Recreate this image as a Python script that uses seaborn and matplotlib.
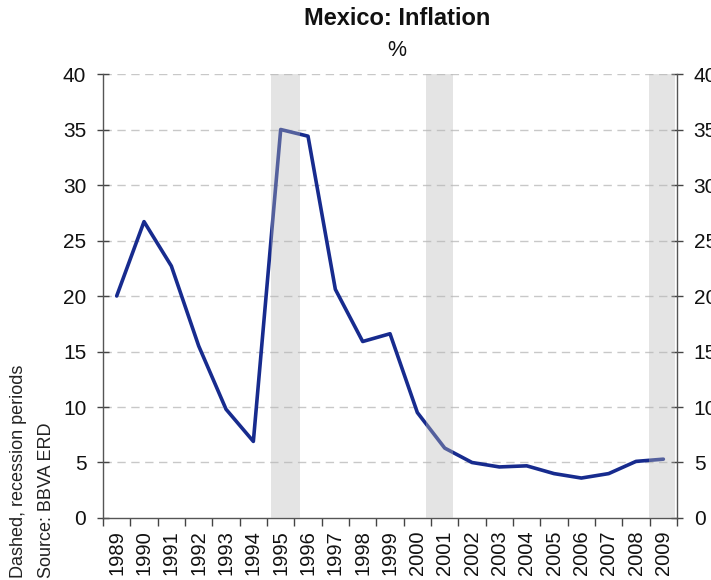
import numpy as np
import pandas as pd
import matplotlib
matplotlib.use("Agg")
import matplotlib.pyplot as plt
import seaborn as sns

# Annual inflation, %
years = [1989, 1990, 1991, 1992, 1993, 1994, 1995, 1996, 1997, 1998, 1999,
         2000, 2001, 2002, 2003, 2004, 2005, 2006, 2007, 2008, 2009]
inflation = [20.0, 26.7, 22.7, 15.5, 9.8, 6.9, 35.0, 34.4, 20.6, 15.9, 16.6,
             9.5, 6.3, 5.0, 4.6, 4.7, 4.0, 3.6, 4.0, 5.1, 5.3]

# Recession periods as fractional years
recession_start = [1994.65, 2000.32, 2008.49]
recession_end = [1995.71, 2001.32, 2009.43]

y_ticks = [0, 5, 10, 15, 20, 25, 30, 35, 40]

df = pd.DataFrame({"year": years, "inflation": inflation})

sns.set_theme(style="white")
plt.rcParams["font.family"] = ["Liberation Sans", "DejaVu Sans"]

fig = plt.figure(figsize=(7.11, 5.8), dpi=100)
ax = fig.add_axes([0.1449, 0.1069, 0.9522 - 0.1449, 0.8724 - 0.1069])

# horizontal dashed gridlines
for v in y_ticks[1:]:
    ax.axhline(v, color="#c8c8c8", lw=1.0, ls=(0, (6, 4)), zorder=0)

sns.lineplot(data=df, x="year", y="inflation", ax=ax, color="#172b8e",
             lw=2.6, zorder=2, legend=False)

# recession shading drawn over the line
for s, e in zip(recession_start, recession_end):
    ax.axvspan(s, e, color="#b8b8b8", alpha=0.38, lw=0, zorder=3)

ax.set_xlim(years[0] - 0.5, years[-1] + 0.5)
ax.set_ylim(0, 40)
ax.set_xlabel("")
ax.set_ylabel("")

# x axis: labels at category centres, ticks on category boundaries
ax.set_xticks(years)
ax.set_xticklabels([str(y) for y in years], rotation=90, fontsize=14.5,
                   color="#111111")
ax.set_xticks([y - 0.5 for y in years] + [years[-1] + 0.5], minor=True)
ax.tick_params(axis="x", which="major", length=0, pad=9)
ax.tick_params(axis="x", which="minor", length=6, width=1, color="#444444",
               direction="out", bottom=True)

ax.set_yticks(y_ticks)
ax.tick_params(axis="y", which="major", labelsize=15, length=9, width=1,
               color="#444444", direction="inout", left=True, right=True,
               labelleft=True, labelright=True, pad=7.5, labelcolor="#111111")

for side in ["left", "right", "bottom"]:
    ax.spines[side].set_visible(True)
    ax.spines[side].set_color("#555555")
    ax.spines[side].set_linewidth(1.0)
ax.spines["top"].set_visible(False)

fig.text(0.558, 0.968, "Mexico: Inflation", ha="center", va="center",
         fontsize=17, fontweight="bold", color="#111111")
fig.text(0.558, 0.913, "%", ha="center", va="center", fontsize=15.5,
         color="#111111")

fig.text(0.026, 0.003, "Dashed, recession periods", rotation=90,
         ha="center", va="bottom", fontsize=13, color="#222222")
fig.text(0.066, 0.003, "Source: BBVA ERD", rotation=90,
         ha="center", va="bottom", fontsize=13, color="#222222")

fig.savefig("out.png", dpi=100)
